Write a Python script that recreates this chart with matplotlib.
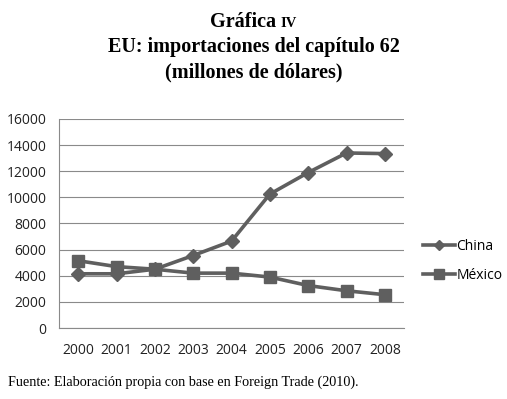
import matplotlib
matplotlib.use("Agg")
import matplotlib.pyplot as plt

years = ["2000", "2001", "2002", "2003", "2004", "2005", "2006", "2007", "2008"]
china = [4150, 4150, 4500, 5550, 6650, 10250, 11900, 13400, 13350]
mexico = [5150, 4700, 4500, 4200, 4200, 3900, 3250, 2850, 2550]
yticks = [0, 2000, 4000, 6000, 8000, 10000, 12000, 14000, 16000]

W, H = 507, 399
fig = plt.figure(figsize=(W / 100, H / 100), dpi=100)
ax = fig.add_axes([59 / W, 1 - 328 / H, 345 / W, 209 / H])

x = range(len(years))
line_col = "#5f5f5f"
ax.plot(x, china, color=line_col, lw=2.6, marker="D", ms=7, label="China")
ax.plot(x, mexico, color=line_col, lw=2.6, marker="s", ms=9, label="México")

ax.set_xlim(-0.5, len(years) - 0.5)
ax.set_ylim(0, 16000)
ax.set_yticks(yticks)
ax.set_xticks(list(x))
ax.set_xticklabels(years)
ax.grid(axis="y", color="#8a8a8a", lw=0.8)
ax.set_axisbelow(True)
for s in ["top", "right"]:
    ax.spines[s].set_visible(False)
for s in ["left", "bottom"]:
    ax.spines[s].set_color("#8a8a8a")
    ax.spines[s].set_linewidth(0.8)
ax.tick_params(length=0, labelsize=10, colors="#222222")
ax.tick_params(axis="y", pad=9)
ax.tick_params(axis="x", pad=11)
for lab in ax.get_xticklabels() + ax.get_yticklabels():
    lab.set_family("Open Sans")

ax.legend(loc="center left", bbox_to_anchor=(1.055, 0.32), frameon=False,
          prop={"family": "Open Sans", "size": 10}, handlelength=2.3,
          handletextpad=0.1, labelspacing=1.0, markerscale=0.75,
          borderpad=0, borderaxespad=0)

serif = "Liberation Serif"
fig.text(276 / W, 1 - 27 / H, "Gráfica", family=serif, weight="bold",
         fontsize=14.5, ha="right", va="baseline")
fig.text(280 / W, 1 - 27 / H, "IV", family=serif, weight="bold",
         fontsize=10.5, ha="left", va="baseline")
fig.text(0.5, 1 - 52 / H, "EU: importaciones del capítulo 62", family=serif,
         weight="bold", fontsize=14.5, ha="center", va="baseline")
fig.text(0.5, 1 - 77 / H, "(millones de dólares)", family=serif,
         weight="bold", fontsize=14.5, ha="center", va="baseline")
fig.text(8 / W, 1 - 386 / H, "Fuente: Elaboración propia con base en Foreign Trade (2010).",
         family=serif, fontsize=10.2, ha="left", va="baseline")

fig.savefig("out.png", dpi=100, facecolor="white")
